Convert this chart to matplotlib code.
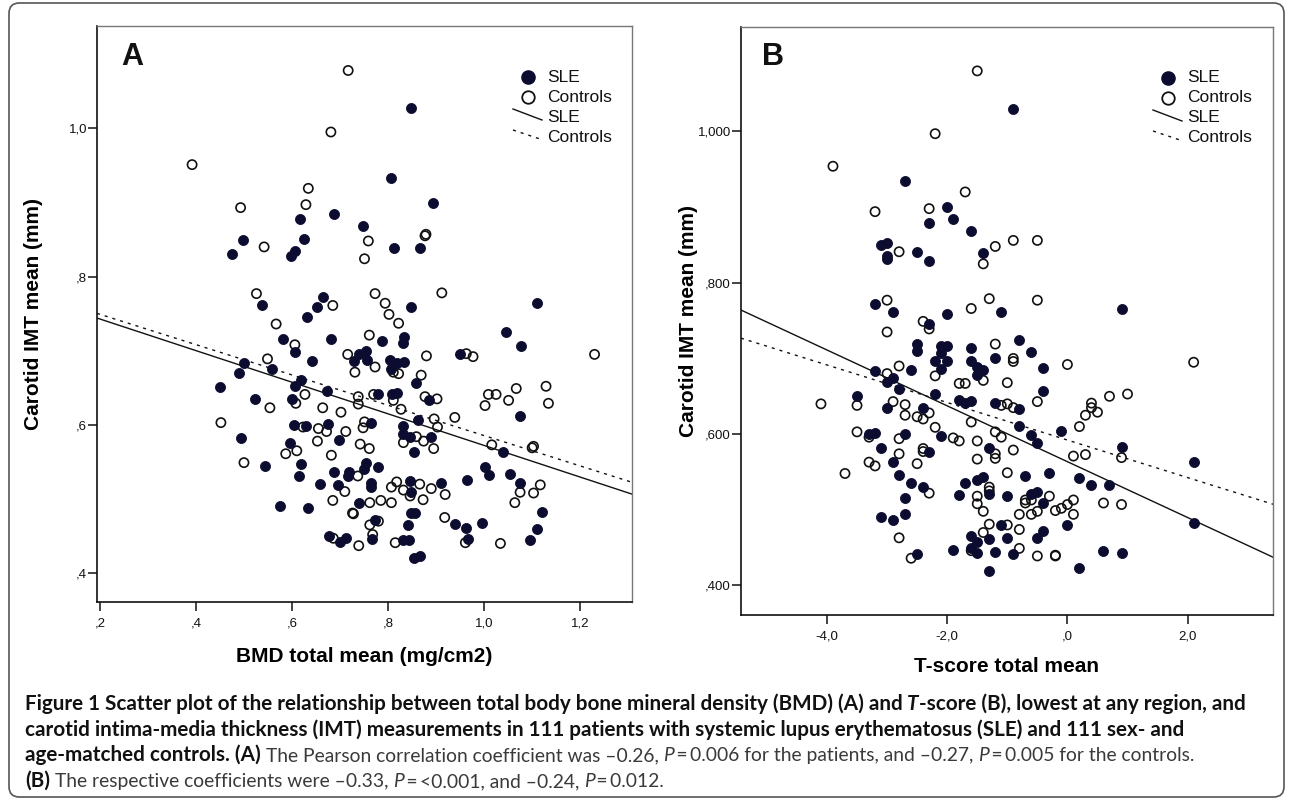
import numpy as np
import matplotlib
matplotlib.use("Agg")
import matplotlib.pyplot as plt
from matplotlib.lines import Line2D
from matplotlib.patches import FancyBboxPatch

W, H = 1290, 799

# ---- panel A: BMD total mean vs carotid IMT (x, y) ----
sle_bmd = [
    (0.688, 0.884), (0.617, 0.877), (0.747, 0.868), (0.499, 0.849), (0.626, 0.851), (0.476, 0.831),
    (0.606, 0.835), (0.598, 0.828), (0.537, 0.761), (0.664, 0.772), (0.653, 0.759), (0.631, 0.746),
    (0.847, 1.027), (0.806, 0.933), (0.893, 0.899), (0.813, 0.839), (0.866, 0.838), (0.847, 0.759),
    (1.111, 0.765),
    (0.582, 0.716), (0.682, 0.716), (0.606, 0.698), (0.641, 0.686), (0.740, 0.696), (0.754, 0.700),
    (0.756, 0.688), (0.730, 0.686), (0.500, 0.683), (0.489, 0.670), (0.559, 0.675), (0.619, 0.660),
    (0.606, 0.653), (0.450, 0.651), (0.523, 0.635), (0.601, 0.635), (0.673, 0.646), (0.605, 0.600),
    (0.630, 0.598), (0.676, 0.601), (0.764, 0.603), (0.494, 0.582), (0.596, 0.576), (0.698, 0.580),
    (0.544, 0.545), (0.619, 0.547), (0.614, 0.531), (0.687, 0.537), (0.719, 0.537), (0.716, 0.531),
    (0.754, 0.549), (0.750, 0.540), (0.658, 0.520), (0.695, 0.519), (0.764, 0.522), (0.764, 0.516),
    (0.740, 0.495), (0.576, 0.491), (0.634, 0.488), (0.773, 0.471), (0.678, 0.450), (0.701, 0.442),
    (0.712, 0.447), (0.766, 0.446),
    (1.046, 0.725), (1.077, 0.707), (0.787, 0.713), (0.834, 0.719), (0.832, 0.710), (0.804, 0.688),
    (0.818, 0.683), (0.834, 0.685), (0.806, 0.675), (0.950, 0.696), (0.859, 0.657), (0.886, 0.633),
    (0.808, 0.642), (0.818, 0.643), (0.780, 0.642), (0.862, 0.606), (0.832, 0.598), (0.832, 0.588),
    (0.845, 0.583), (0.890, 0.584), (0.855, 0.564), (1.075, 0.612), (1.039, 0.563), (0.779, 0.543),
    (1.002, 0.543), (1.011, 0.532), (1.053, 0.533), (1.074, 0.522), (0.964, 0.526), (0.846, 0.524),
    (0.848, 0.510), (0.911, 0.522), (1.120, 0.483), (1.110, 0.459), (1.095, 0.444), (0.841, 0.465),
    (0.940, 0.466), (0.963, 0.461), (0.996, 0.467), (0.848, 0.481), (0.857, 0.481), (0.966, 0.446),
    (0.832, 0.444), (0.843, 0.444), (0.855, 0.420), (0.866, 0.423),
]
ctl_bmd = [
    (0.717, 1.078), (0.681, 0.995), (0.392, 0.951), (0.634, 0.919), (0.493, 0.893), (0.629, 0.897),
    (0.542, 0.840), (0.759, 0.848), (0.751, 0.824), (0.526, 0.777), (0.685, 0.761), (0.567, 0.736),
    (0.773, 0.777), (0.761, 0.721),
    (0.877, 0.855), (0.879, 0.857), (0.794, 0.764), (0.802, 0.749), (0.912, 0.778),
    (0.606, 0.708), (0.549, 0.689), (0.716, 0.695), (0.731, 0.671), (0.627, 0.641), (0.608, 0.629),
    (0.554, 0.623), (0.664, 0.623), (0.702, 0.617), (0.452, 0.603), (0.738, 0.638), (0.738, 0.628),
    (0.623, 0.597), (0.655, 0.595), (0.672, 0.591), (0.712, 0.591), (0.748, 0.596), (0.751, 0.604),
    (0.653, 0.578), (0.742, 0.574), (0.761, 0.568), (0.587, 0.561), (0.610, 0.565), (0.682, 0.559),
    (0.500, 0.549), (0.737, 0.531), (0.710, 0.510), (0.685, 0.498), (0.762, 0.495), (0.726, 0.481),
    (0.728, 0.480), (0.762, 0.465), (0.768, 0.452), (0.686, 0.447), (0.739, 0.437), (0.773, 0.678),
    (0.822, 0.737), (0.880, 0.693), (0.811, 0.671), (0.822, 0.669), (0.869, 0.667), (0.963, 0.696),
    (0.977, 0.692), (0.770, 0.641), (0.811, 0.633), (0.827, 0.621), (0.877, 0.638), (0.902, 0.635),
    (0.939, 0.610), (0.896, 0.608), (0.903, 0.597), (0.859, 0.584), (0.874, 0.578), (0.832, 0.576),
    (0.895, 0.568), (1.016, 0.573), (1.100, 0.569), (1.103, 0.571), (1.009, 0.641), (1.025, 0.641),
    (1.002, 0.626), (1.051, 0.633), (1.067, 0.649), (1.129, 0.652), (1.134, 0.629), (1.230, 0.695),
    (0.807, 0.516), (0.818, 0.523), (0.832, 0.512), (0.866, 0.520), (0.890, 0.514), (0.919, 0.506),
    (0.873, 0.499), (0.846, 0.504), (1.075, 0.509), (1.117, 0.519), (1.103, 0.508), (1.064, 0.495),
    (0.785, 0.498), (0.807, 0.495), (0.780, 0.470), (0.918, 0.475), (0.815, 0.441), (0.961, 0.441),
    (1.034, 0.440),
]

# ---- panel B: T-score total mean vs carotid IMT (x, y) ----
sle_tscore = [
    (-0.9, 1.029), (-2.7, 0.934), (-2.0, 0.900), (-1.9, 0.884), (-2.3, 0.879), (-1.6, 0.869),
    (-3.1, 0.850), (-3.0, 0.852), (-3.0, 0.836), (-3.0, 0.831), (-2.5, 0.841), (-2.3, 0.829),
    (-1.4, 0.839), (-3.2, 0.772), (-2.9, 0.762), (-2.0, 0.759), (-1.1, 0.761), (-2.3, 0.746),
    (0.9, 0.766),
    (-2.5, 0.719), (-2.5, 0.710), (-2.1, 0.717), (-2.0, 0.717), (-2.1, 0.707), (-2.2, 0.697),
    (-2.0, 0.697), (-1.6, 0.714), (-1.6, 0.696), (-1.2, 0.700), (-1.5, 0.689), (-1.5, 0.678),
    (-1.4, 0.685), (-2.1, 0.686), (-2.6, 0.685), (-3.2, 0.683), (-3.0, 0.669), (-2.9, 0.674),
    (-2.8, 0.660), (-3.5, 0.651), (-3.0, 0.635), (-2.4, 0.635), (-2.2, 0.653), (-1.8, 0.645),
    (-1.7, 0.641), (-1.6, 0.644), (-1.2, 0.641), (-3.3, 0.600), (-3.2, 0.602), (-3.1, 0.582),
    (-2.9, 0.563), (-2.7, 0.600), (-2.1, 0.598), (-2.3, 0.577), (-1.3, 0.582), (-2.8, 0.546),
    (-2.6, 0.535), (-2.4, 0.530), (-2.7, 0.515), (-1.7, 0.535), (-1.8, 0.520), (-1.5, 0.539),
    (-1.4, 0.543), (-1.3, 0.521), (-1.0, 0.518), (-3.1, 0.490), (-2.9, 0.487), (-2.7, 0.495),
    (-2.5, 0.442), (-1.9, 0.447), (-1.6, 0.465), (-1.5, 0.457), (-1.3, 0.461), (-1.0, 0.463),
    (-1.6, 0.449), (-1.5, 0.443), (-1.2, 0.444), (-1.3, 0.419), (-1.1, 0.480), (-0.9, 0.441),
    (-0.8, 0.725), (-0.6, 0.708), (-0.4, 0.688), (-0.4, 0.657), (-0.8, 0.633), (-0.8, 0.611),
    (-0.6, 0.599), (-0.5, 0.588), (-0.1, 0.604), (0.9, 0.583), (2.1, 0.563), (2.1, 0.483),
    (-0.7, 0.545), (-0.3, 0.548), (0.2, 0.542), (0.4, 0.533), (0.7, 0.533), (-0.5, 0.524),
    (-0.6, 0.521), (-0.4, 0.509), (-0.5, 0.463), (-0.4, 0.472), (0.0, 0.480), (0.2, 0.423),
    (0.6, 0.446), (0.9, 0.443),
]
ctl_tscore = [
    (-1.5, 1.080), (-2.2, 0.997), (-3.9, 0.954), (-1.7, 0.920), (-3.2, 0.894), (-2.3, 0.898),
    (-2.8, 0.841), (-1.4, 0.825), (-1.2, 0.848), (-0.9, 0.856), (-3.0, 0.777), (-1.6, 0.766),
    (-1.3, 0.779), (-2.4, 0.749), (-0.5, 0.856), (-0.5, 0.777),
    (-3.0, 0.735), (-2.3, 0.739), (-1.2, 0.719), (-0.9, 0.696), (-0.9, 0.700), (-2.8, 0.690),
    (-3.0, 0.680), (-2.2, 0.677), (-1.8, 0.667), (-1.7, 0.667), (-1.4, 0.671), (-1.0, 0.668),
    (-4.1, 0.640), (-3.5, 0.638), (-2.9, 0.643), (-2.7, 0.639), (-2.7, 0.625), (-2.5, 0.623),
    (-2.4, 0.620), (-2.3, 0.628), (-2.2, 0.609), (-1.6, 0.616), (-1.2, 0.603), (-1.1, 0.596),
    (-3.5, 0.603), (-3.3, 0.596), (-2.8, 0.594), (-2.8, 0.574), (-2.4, 0.581), (-2.4, 0.577),
    (-1.9, 0.595), (-1.8, 0.591), (-1.5, 0.591), (-1.2, 0.574), (-1.2, 0.568), (-1.5, 0.567),
    (-3.3, 0.563), (-3.2, 0.558), (-3.7, 0.548), (-2.5, 0.561), (-1.0, 0.549), (-2.3, 0.522),
    (-1.3, 0.530), (-1.3, 0.525), (-1.5, 0.518), (-1.5, 0.508), (-1.4, 0.498), (-1.3, 0.481),
    (-1.4, 0.470), (-1.0, 0.480), (-2.8, 0.463), (-2.6, 0.436), (-1.6, 0.446), (-1.1, 0.638),
    (-1.0, 0.640), (-0.9, 0.635), (-0.9, 0.579),
    (0.0, 0.692), (2.1, 0.695), (-0.5, 0.643), (0.4, 0.641), (0.4, 0.635), (0.3, 0.625),
    (0.5, 0.629), (0.7, 0.650), (1.0, 0.653), (0.2, 0.610), (0.1, 0.571), (0.3, 0.573),
    (0.9, 0.569), (-0.7, 0.513), (-0.7, 0.509), (-0.6, 0.513), (-0.3, 0.518), (-0.8, 0.494),
    (-0.6, 0.494), (-0.5, 0.498), (-0.2, 0.499), (-0.1, 0.502), (0.0, 0.507), (0.1, 0.513),
    (0.1, 0.494), (0.6, 0.509), (0.9, 0.507), (-0.8, 0.474), (-0.8, 0.449), (-0.5, 0.439),
    (-0.2, 0.440), (-0.2, 0.439),
]

# fit lines: (intercept, slope)
fit_bmd = {"SLE": (0.7854, -0.2132), "Controls": (0.7900, -0.2045)}
fit_tscore = {"SLE": (0.5636, -0.0369), "Controls": (0.5922, -0.0248)}

bmd_ticks = [0.2, 0.4, 0.6, 0.8, 1.0, 1.2]
bmd_ticklabels = [",2", ",4", ",6", ",8", "1,0", "1,2"]
t_ticks = [-4, -2, 0, 2]
t_ticklabels = ["-4,0", "-2,0", ",0", "2,0"]
imt_ticks = [0.4, 0.6, 0.8, 1.0]
imt_labels_a = [",4", ",6", ",8", "1,0"]
imt_labels_b = [",400", ",600", ",800", "1,000"]

SLE_C = "#0c0c30"
plt.rcParams["font.family"] = ["Liberation Sans", "DejaVu Sans"]

fig = plt.figure(figsize=(W / 100, H / 100), dpi=100)


def fxy(px, py):
    return px / W, 1 - py / H


def panel(box, sle, ctl, fits, xlim, xticks, xticklabels, yticklabels, xlabel, xlab_y, ylab_x):
    left, top, right, bottom = box
    ax = fig.add_axes([left / W, 1 - bottom / H, (right - left) / W, (bottom - top) / H])
    ax.set_xlim(xlim)
    ax.set_ylim(0.361, 1.138)

    xs = np.array(xlim)
    b0, b1 = fits["SLE"]
    ax.plot(xs, b0 + b1 * xs, color="#111111", lw=1.0, zorder=2)
    b0, b1 = fits["Controls"]
    ax.plot(xs, b0 + b1 * xs, color="#111111", lw=1.0, dashes=(2.2, 3.6), zorder=2)

    cx, cy = zip(*ctl)
    ax.scatter(cx, cy, s=44, facecolors="none", edgecolors="#111111", linewidths=1.2, zorder=3)
    sx, sy = zip(*sle)
    ax.scatter(sx, sy, s=52, color=SLE_C, edgecolors=SLE_C, linewidths=0.6, zorder=4)

    ax.set_xticks(xticks)
    ax.set_xticklabels(xticklabels)
    ax.set_yticks(imt_ticks)
    ax.set_yticklabels(yticklabels)
    ax.tick_params(direction="out", length=6.2, width=1.1, labelsize=9.5, colors="#111111")
    ax.tick_params(axis="x", pad=5)
    ax.tick_params(axis="y", pad=1)
    for s in ("left", "bottom"):
        ax.spines[s].set_linewidth(1.2)
        ax.spines[s].set_color("#111111")
    for s in ("top", "right"):
        ax.spines[s].set_linewidth(1.0)
        ax.spines[s].set_color("#777777")

    ax.set_xlabel(xlabel, fontsize=15, fontweight="bold")
    ax.xaxis.set_label_coords(0.5, (bottom - xlab_y) / (bottom - top))
    ax.xaxis.label.set_verticalalignment("center")
    ax.set_ylabel("Carotid IMT mean (mm)", fontsize=15, fontweight="bold")
    ax.yaxis.set_label_coords((ylab_x - left) / (right - left), 0.5)
    ax.yaxis.label.set_verticalalignment("center")
    return ax


def legend(mx, my):
    tr = fig.transFigure
    x, y = fxy(mx, my)
    fig.add_artist(Line2D([x], [y], marker="o", ms=9.5, mfc=SLE_C, mec=SLE_C, ls="none", transform=tr))
    x, y = fxy(mx, my + 20)
    fig.add_artist(Line2D([x], [y], marker="o", ms=9.0, mfc="none", mec="#111111", mew=1.3,
                          ls="none", transform=tr))
    p0, p1 = fxy(mx - 15, my + 32), fxy(mx + 14, my + 43)
    fig.add_artist(Line2D([p0[0], p1[0]], [p0[1], p1[1]], color="#111111", lw=1.0, transform=tr))
    p0, p1 = fxy(mx - 15, my + 53), fxy(mx + 12, my + 62)
    fig.add_artist(Line2D([p0[0], p1[0]], [p0[1], p1[1]], color="#111111", lw=1.0,
                          dashes=(2.2, 3.6), transform=tr))
    for i, lab in enumerate(["SLE", "Controls", "SLE", "Controls"]):
        x, y = fxy(mx + 19, my + 20 * i)
        fig.text(x, y, lab, fontsize=12.5, va="center", ha="left", color="#111111")


panel((97, 26, 632, 602), sle_bmd, ctl_bmd, fit_bmd, (0.194, 1.308),
      bmd_ticks, bmd_ticklabels, imt_labels_a, "BMD total mean (mg/cm2)", 657, 34)
panel((741, 27, 1273, 615), sle_tscore, ctl_tscore, fit_tscore, (-5.43, 3.42),
      t_ticks, t_ticklabels, imt_labels_b, "T-score total mean", 666, 688)

legend(528, 77)
legend(1168, 78)

for lab, (px, py) in (("A", (132, 57)), ("B", (773, 57))):
    x, y = fxy(px, py)
    fig.text(x, y, lab, fontsize=22, fontweight="bold", ha="center", va="center", color="#111111")

# outer rounded frame
x0, y0 = fxy(9, 797)
frame = FancyBboxPatch((x0, y0), (1284 - 9) / W, (797 - 3) / H, transform=fig.transFigure,
                       boxstyle="round,pad=0,rounding_size=0.008", mutation_aspect=W / H,
                       facecolor="none", edgecolor="#555555", lw=1.2)
fig.add_artist(frame)

# caption, drawn piece by piece so that bold / italic runs follow each other
styles = {
    "b": dict(family="Lato", weight="bold", color="#111111", fontsize=14.9),
    "bi": dict(family="Lato", weight="bold", style="italic", color="#111111", fontsize=14.9),
    "r": dict(family="Lato", weight="normal", color="#3a3a3a", fontsize=13.9),
    "i": dict(family="Lato", weight="normal", style="italic", color="#3a3a3a", fontsize=13.9),
}
caption = [
    [("Figure 1 Scatter plot of the relationship between total body bone mineral density (BMD) (A) and", "b"),
     (" T", "bi"), ("-score (B), lowest at any region, and", "b")],
    [("carotid intima-media thickness (IMT) measurements in 111 patients with systemic lupus "
      "erythematosus (SLE) and 111 sex- and", "b")],
    [("age-matched controls. (A)", "b"), (" The Pearson correlation coefficient was \u20130.26,", "r"),
     (" P", "i"), ("\u2009=\u20090.006 for the patients, and \u20130.27,", "r"), (" P", "i"),
     ("\u2009=\u20090.005 for the controls.", "r")],
    [("(B)", "b"), (" The respective coefficients were \u20130.33,", "r"), (" P", "i"),
     ("\u2009=\u2009<0.001, and \u20130.24,", "r"), (" P", "i"), ("\u2009=\u20090.012.", "r")],
]
renderer = fig.canvas.get_renderer()


def text_w(s, st):
    t = fig.text(0, 0, s, **styles[st])
    w = t.get_window_extent(renderer).width
    t.remove()
    return w


space_w = {st: text_w("n n", st) - text_w("nn", st) for st in styles}
for k, parts in enumerate(caption):
    x = 25
    base = 710 + 25.7 * k
    for s, st in parts:
        if s.startswith(" "):
            x += space_w[st]
            s = s[1:]
        t = fig.text(x / W, 1 - base / H, s, ha="left", va="baseline", **styles[st])
        x = t.get_window_extent(renderer).x1

fig.savefig("out.png", dpi=100)
